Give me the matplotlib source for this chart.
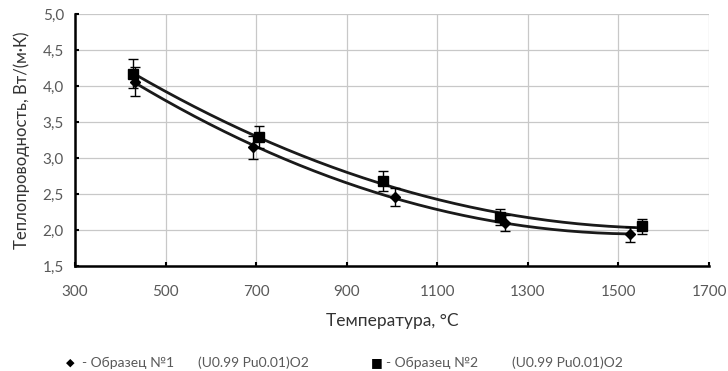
import numpy
from matplotlib import pyplot

# Data
temp_1 = [432, 693, 1006, 1249, 1525]
cond_1 = [4.06, 3.15, 2.46, 2.10, 1.94]
err_1 = [0.20, 0.16, 0.13, 0.11, 0.10]

temp_2 = [428, 706, 980, 1238, 1552]
cond_2 = [4.17, 3.29, 2.68, 2.18, 2.05]
err_2 = [0.20, 0.15, 0.14, 0.11, 0.10]

x_ticks = [300, 500, 700, 900, 1100, 1300, 1500, 1700]
y_ticks = [1.5, 2.0, 2.5, 3.0, 3.5, 4.0, 4.5, 5.0]
y_labels = ["1,5", "2,0", "2,5", "3,0", "3,5", "4,0", "4,5", "5,0"]

grey = "#595959"
pyplot.rcParams["font.family"] = ["Lato", "DejaVu Sans"]

f = pyplot.figure(figsize=(7.28, 3.71), dpi=100)
ax = f.add_axes([0.103, 0.283, 0.871, 0.679])

# Polynomial (order 2) trendlines, as in the original spreadsheet
for t, c in [(temp_1, cond_1), (temp_2, cond_2)]:
    coef = numpy.polyfit(t, c, 2)
    xs = numpy.linspace(min(t), max(t), 200)
    ax.plot(xs, numpy.polyval(coef, xs), color="#1a1a1a", linewidth=2, zorder=3)

ax.errorbar(temp_1, cond_1, yerr=err_1, fmt="D", color="black", markersize=5,
            elinewidth=1, capsize=3.5, capthick=1, zorder=4)
ax.errorbar(temp_2, cond_2, yerr=err_2, fmt="s", color="black", markersize=7,
            elinewidth=1, capsize=3.5, capthick=1, zorder=4)

ax.set_xlim(300, 1700)
ax.set_ylim(1.5, 5.0)
ax.set_xticks(x_ticks)
ax.set_yticks(y_ticks)
ax.set_yticklabels(y_labels)
ax.grid(True, color="#c8c8c8", linewidth=0.9)
ax.set_axisbelow(True)
for s in ["top", "right"]:
    ax.spines[s].set_visible(False)
for s in ["left", "bottom"]:
    ax.spines[s].set_linewidth(1.8)
ax.tick_params(direction="in", length=3, width=1.5, labelsize=11, labelcolor=grey, pad=8)
ax.tick_params(axis="x", pad=14)

ax.set_xlabel("Температура, °С", fontsize=12.5, color="#333333", labelpad=10)
ax.set_ylabel("Теплопроводность, Вт/(м·К)", fontsize=12, color="#333333", labelpad=9)

# Legend below the plot
ly = 0.022
f.text(0.096, ly, "◆", fontsize=8, ha="center", va="center", family=["DejaVu Sans"])
f.text(0.112, ly, "- Образец №1", fontsize=10, color=grey, va="center")
f.text(0.272, ly, "(U0.99 Pu0.01)O2", fontsize=10, color=grey, va="center")
f.text(0.517, ly, "■", fontsize=9, ha="center", va="center", family=["DejaVu Sans"])
f.text(0.530, ly, "- Образец №2", fontsize=10, color=grey, va="center")
f.text(0.703, ly, "(U0.99 Pu0.01)O2", fontsize=10, color=grey, va="center")

pyplot.savefig("out.png", dpi=100)
